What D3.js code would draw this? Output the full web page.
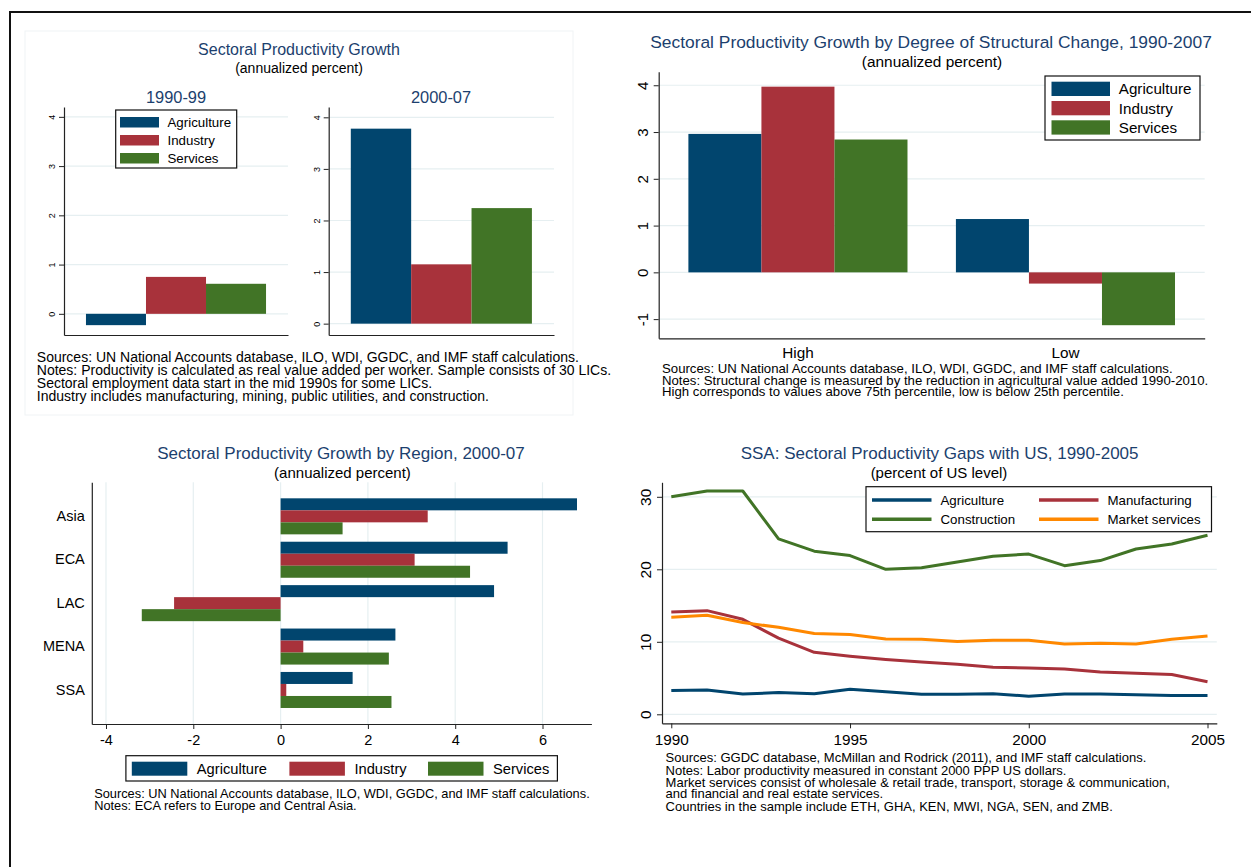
<!DOCTYPE html>
<html>
<head>
<meta charset="utf-8">
<script src="https://cdn.jsdelivr.net/npm/d3@7"></script>
<style>
body { margin: 0; background: #fff; }
svg { display: block; font-family: "Liberation Sans", Arial, sans-serif; }
</style>
</head>
<body>
<div id="chart"></div>
<script>
// ---- data ----
const SECTORS = ["Agriculture", "Industry", "Services"];

const GROWTH_GROUP = ["all"];
const GROWTH_1990_99 = [-0.23, 0.75, 0.61];
const GROWTH_2000_07 = [3.78, 1.15, 2.24];
const GROWTH_TICKS = [0, 1, 2, 3, 4];

const CHANGE_GROUPS = ["High", "Low"];
const CHANGE_AGRICULTURE = [2.96, 1.14];
const CHANGE_INDUSTRY = [3.97, -0.24];
const CHANGE_SERVICES = [2.84, -1.13];
const CHANGE_TICKS = [-1, 0, 1, 2, 3, 4];

const REGIONS = ["Asia", "ECA", "LAC", "MENA", "SSA"];
const REGION_AGRICULTURE = [6.79, 5.20, 4.89, 2.63, 1.65];
const REGION_INDUSTRY = [3.37, 3.07, -2.44, 0.52, 0.13];
const REGION_SERVICES = [1.42, 4.34, -3.18, 2.48, 2.54];
const REGION_TICKS = [-4, -2, 0, 2, 4, 6];

const YEARS = [1990, 1991, 1992, 1993, 1994, 1995, 1996, 1997, 1998, 1999, 2000, 2001, 2002, 2003, 2004, 2005];
const GAP_AGRICULTURE = [3.3, 3.35, 2.8, 3.0, 2.85, 3.45, 3.1, 2.75, 2.75, 2.85, 2.5, 2.8, 2.8, 2.7, 2.6, 2.6];
const GAP_MANUFACTURING = [14.1, 14.3, 13.1, 10.5, 8.55, 8.0, 7.55, 7.2, 6.9, 6.5, 6.4, 6.25, 5.85, 5.65, 5.5, 4.5];
const GAP_CONSTRUCTION = [30.0, 30.8, 30.8, 24.2, 22.5, 21.9, 20.0, 20.2, 21.0, 21.8, 22.1, 20.5, 21.2, 22.8, 23.5, 24.7];
const GAP_MARKET_SERVICES = [13.4, 13.65, 12.65, 12.0, 11.15, 11.0, 10.4, 10.35, 10.05, 10.2, 10.2, 9.7, 9.8, 9.7, 10.35, 10.8];
const GAP_SECTORS = ["Agriculture", "Manufacturing", "Construction", "Market services"];
const GAP_YEAR_TICKS = [1990, 1995, 2000, 2005];
const GAP_TICKS = [0, 10, 20, 30];

const NOTES_GROWTH = [
    "Sources: UN National Accounts database, ILO, WDI, GGDC, and IMF staff calculations.",
    "Notes: Productivity is calculated as real value added per worker. Sample consists of 30 LICs.",
    "Sectoral employment data start in the mid 1990s for some LICs.",
    "Industry includes manufacturing, mining, public utilities, and construction."
];
const NOTES_CHANGE = [
    "Sources: UN National Accounts database, ILO, WDI, GGDC, and IMF staff calculations.",
    "Notes: Structural change is measured by the reduction in agricultural value added 1990-2010.",
    "High corresponds to values above 75th percentile, low is below 25th percentile."
];
const NOTES_REGION = [
    "Sources: UN National Accounts database, ILO, WDI, GGDC, and IMF staff calculations.",
    "Notes: ECA refers to Europe and Central Asia."
];
const NOTES_GAP = [
    "Sources: GGDC database, McMillan and Rodrick (2011), and IMF staff calculations.",
    "Notes: Labor productivity measured in constant 2000 PPP US dollars.",
    "Market services consist of wholesale & retail trade, transport, storage & communication,",
    "and financial and real estate services.",
    "Countries in the sample include ETH, GHA, KEN, MWI, NGA, SEN, and ZMB."
];

// ---- style ----
const SECTOR_COLORS = ["#01456e", "#a8323b", "#417426"];
const GAP_COLORS = ["#01456e", "#a8323b", "#417426", "#ff8800"];
const TITLE_COLOR = "#1c3f6e";
const GRID = "#e6eff1";
const AXIS = "#222";
const plain = d => String(d);

const svg = d3.select("#chart").append("svg")
    .attr("width", 1251)
    .attr("height", 867);

svg.append("rect").attr("width", 1251).attr("height", 867).attr("fill", "#fff");
svg.append("path").attr("d", "M10,867V12H1251").attr("fill", "none").attr("stroke", "#111").attr("stroke-width", 2);

function label(g, x, y, str, size, fill, anchor) {
    return g.append("text")
        .attr("x", x).attr("y", y).attr("dy", "0.35em")
        .attr("font-size", size)
        .attr("fill", fill || "#000")
        .attr("text-anchor", anchor || "start")
        .text(str);
}

function notes(g, x, ys, lines, size) {
    lines.forEach((t, i) => label(g, x, ys[i], t, size));
}

function styleAxis(a, size) {
    a.attr("font-family", null).attr("font-size", size);
    a.select(".domain").attr("stroke", AXIS).attr("stroke-width", 1.2);
    a.selectAll(".tick line").attr("stroke", AXIS);
    a.selectAll(".tick text").attr("fill", "#000");
}

function rotateTicks(a, off) {
    a.selectAll(".tick text")
        .attr("x", 0).attr("dy", 0)
        .attr("text-anchor", "middle")
        .attr("transform", `translate(${-off},0) rotate(-90)`);
}

// vertical grouped bars
function columns(g, c) {
    const y = d3.scaleLinear().domain(c.domain).range([c.y1, c.y0]);
    const x = d3.scaleBand().domain(c.groups).range([c.x0, c.x1])
        .paddingInner(c.pi).paddingOuter(c.po);
    const xi = d3.scaleBand().domain(SECTORS).range([0, x.bandwidth()]);

    g.append("g").selectAll("line").data(c.ticks).join("line")
        .attr("x1", c.x0).attr("x2", c.x1)
        .attr("y1", d => y(d)).attr("y2", d => y(d))
        .attr("stroke", GRID).attr("stroke-width", 1.2);

    c.series.forEach((vals, si) => {
        g.append("g").selectAll("rect").data(vals).join("rect")
            .attr("x", (d, i) => x(c.groups[i]) + xi(SECTORS[si]))
            .attr("width", xi.bandwidth())
            .attr("y", d => y(Math.max(0, d)))
            .attr("height", d => Math.abs(y(d) - y(0)))
            .attr("fill", SECTOR_COLORS[si]);
    });

    const ya = g.append("g").attr("transform", `translate(${c.x0},0)`)
        .call(d3.axisLeft(y).tickValues(c.ticks).tickFormat(plain).tickSize(5).tickSizeOuter(0));
    styleAxis(ya, c.tickFont);
    rotateTicks(ya, c.tickOff);

    const xa = g.append("g").attr("transform", `translate(0,${c.y1})`)
        .call(d3.axisBottom(x).tickSize(0).tickSizeOuter(0).tickPadding(9)
            .tickFormat(c.showGroups ? plain : (() => "")));
    styleAxis(xa, c.groupFont || 15);
}

function boxLegend(g, x, y, w, h) {
    g.append("rect").attr("x", x).attr("y", y).attr("width", w).attr("height", h)
        .attr("fill", "#fff").attr("stroke", "#111").attr("stroke-width", 1.2);
}

// ================= top left =================
const tl = svg.append("g");
tl.append("rect").attr("x", 25).attr("y", 31).attr("width", 548).attr("height", 384)
    .attr("fill", "none").attr("stroke", "#f0f3f5").attr("stroke-width", 1);
label(tl, 299, 49, "Sectoral Productivity Growth", 16, TITLE_COLOR, "middle");
label(tl, 299, 68, "(annualized percent)", 14, "#000", "middle");
label(tl, 176, 97, "1990-99", 16.4, TITLE_COLOR, "middle");
label(tl, 441, 97, "2000-07", 16.4, TITLE_COLOR, "middle");

columns(tl, {
    x0: 64, x1: 288, y0: 107, y1: 335, domain: [-0.43, 4.2], ticks: GROWTH_TICKS,
    groups: GROWTH_GROUP, pi: 0, po: 0.122,
    series: [[GROWTH_1990_99[0]], [GROWTH_1990_99[1]], [GROWTH_1990_99[2]]],
    tickFont: 9, tickOff: 9
});
columns(tl, {
    x0: 328.7, x1: 554, y0: 107, y1: 335, domain: [-0.22, 4.2], ticks: GROWTH_TICKS,
    groups: GROWTH_GROUP, pi: 0, po: 0.122,
    series: [[GROWTH_2000_07[0]], [GROWTH_2000_07[1]], [GROWTH_2000_07[2]]],
    tickFont: 9, tickOff: 9
});

boxLegend(tl, 115.7, 110, 121, 58);
SECTORS.forEach((s, i) => {
    tl.append("rect").attr("x", 120).attr("y", 117 + i * 18).attr("width", 39).attr("height", 10.5)
        .attr("fill", SECTOR_COLORS[i]);
    label(tl, 167.5, 122.5 + i * 18, s, 13.3);
});
notes(tl, 36.8, [357, 370, 383, 396.5], NOTES_GROWTH, 14);

// ================= top right =================
const tr = svg.append("g");
label(tr, 931, 42, "Sectoral Productivity Growth by Degree of Structural Change, 1990-2007", 17.4, TITLE_COLOR, "middle");
label(tr, 932, 62, "(annualized percent)", 15.4, "#000", "middle");

columns(tr, {
    x0: 658.7, x1: 1204.7, y0: 71.7, y1: 338.3, domain: [-1.41, 4.29], ticks: CHANGE_TICKS,
    groups: CHANGE_GROUPS, pi: 0.181, po: 0.111,
    series: [CHANGE_AGRICULTURE, CHANGE_INDUSTRY, CHANGE_SERVICES],
    tickFont: 15, tickOff: 11, showGroups: true, groupFont: 15.3
});

boxLegend(tr, 1045, 76, 155, 64);
SECTORS.forEach((s, i) => {
    tr.append("rect").attr("x", 1051.5).attr("y", 81.7 + i * 19.3).attr("width", 58.5).attr("height", 14.3)
        .attr("fill", SECTOR_COLORS[i]);
    label(tr, 1118.8, 89 + i * 19.4, s, 15.2);
});
notes(tr, 662, [368.5, 380, 391.5], NOTES_CHANGE, 13.2);

// ================= bottom left =================
const bl = svg.append("g");
label(bl, 341, 452.7, "Sectoral Productivity Growth by Region, 2000-07", 17, TITLE_COLOR, "middle");
label(bl, 342.5, 472.3, "(annualized percent)", 15, "#000", "middle");
{
    const x0 = 91.8, x1 = 591.4, y0 = 482.3, y1 = 724;
    const x = d3.scaleLinear().domain([-4.325, 7.12]).range([x0, x1]);
    const y = d3.scaleBand().domain(REGIONS).range([y0, y1]).paddingInner(0.17).paddingOuter(0.369);
    const yi = d3.scaleBand().domain(SECTORS).range([0, y.bandwidth()]);

    bl.append("g").selectAll("line").data(REGION_TICKS).join("line")
        .attr("x1", d => x(d)).attr("x2", d => x(d))
        .attr("y1", y0).attr("y2", y1)
        .attr("stroke", GRID).attr("stroke-width", 1.2);

    [REGION_AGRICULTURE, REGION_INDUSTRY, REGION_SERVICES].forEach((vals, si) => {
        bl.append("g").selectAll("rect").data(vals).join("rect")
            .attr("y", (d, i) => y(REGIONS[i]) + yi(SECTORS[si]))
            .attr("height", yi.bandwidth())
            .attr("x", d => x(Math.min(0, d)))
            .attr("width", d => Math.abs(x(d) - x(0)))
            .attr("fill", SECTOR_COLORS[si]);
    });

    const ya = bl.append("g").attr("transform", `translate(${x0},0)`)
        .call(d3.axisLeft(y).tickSize(0).tickSizeOuter(0).tickPadding(7));
    styleAxis(ya, 14.5);
    const xa = bl.append("g").attr("transform", `translate(0,${y1})`)
        .call(d3.axisBottom(x).tickValues(REGION_TICKS).tickFormat(plain)
            .tickSize(5).tickSizeOuter(0).tickPadding(6));
    styleAxis(xa, 14.5);

    boxLegend(bl, 125.9, 755.7, 431.5, 25.3);
    const swX = [131.8, 289.4, 428];
    SECTORS.forEach((s, i) => {
        bl.append("rect").attr("x", swX[i]).attr("y", 761.7).attr("width", 55.5).attr("height", 14)
            .attr("fill", SECTOR_COLORS[i]);
        label(bl, swX[i] + 65, 768.7, s, 14.7);
    });
}
notes(bl, 94.2, [793.3, 805.7], NOTES_REGION, 12.8);

// ================= bottom right =================
const br = svg.append("g");
label(br, 939.6, 452.7, "SSA: Sectoral Productivity Gaps with US, 1990-2005", 17, TITLE_COLOR, "middle");
label(br, 939, 472.3, "(percent of US level)", 15, "#000", "middle");
{
    const x0 = 662, x1 = 1216.8, y0 = 482.3, y1 = 723.3;
    const x = d3.scaleLinear().domain([1989.74, 2005.26]).range([x0, x1]);
    const y = d3.scaleLinear().domain([-1.24, 32]).range([y1, y0]);

    br.append("g").selectAll("line").data(GAP_TICKS).join("line")
        .attr("x1", x0).attr("x2", x1)
        .attr("y1", d => y(d)).attr("y2", d => y(d))
        .attr("stroke", GRID).attr("stroke-width", 1.2);

    const line = d3.line().x(d => x(d[0])).y(d => y(d[1]));
    [GAP_AGRICULTURE, GAP_MANUFACTURING, GAP_CONSTRUCTION, GAP_MARKET_SERVICES].forEach((vals, si) => {
        br.append("path")
            .datum(YEARS.map((yr, i) => [yr, vals[i]]))
            .attr("fill", "none")
            .attr("stroke", GAP_COLORS[si])
            .attr("stroke-width", 3)
            .attr("stroke-linejoin", "round")
            .attr("d", line);
    });

    const ya = br.append("g").attr("transform", `translate(${x0},0)`)
        .call(d3.axisLeft(y).tickValues(GAP_TICKS).tickFormat(plain).tickSize(5).tickSizeOuter(0));
    styleAxis(ya, 15.5);
    rotateTicks(ya, 11.5);
    const xa = br.append("g").attr("transform", `translate(0,${y1})`)
        .call(d3.axisBottom(x).tickValues(GAP_YEAR_TICKS).tickFormat(plain)
            .tickSize(5).tickSizeOuter(0).tickPadding(6));
    styleAxis(xa, 15.3);

    boxLegend(br, 866, 486.7, 345.5, 45);
    const legX = [872, 1039, 872, 1039];
    const legY = [500, 500, 519.3, 519.3];
    GAP_SECTORS.forEach((s, i) => {
        br.append("line").attr("x1", legX[i]).attr("x2", legX[i] + 59.5)
            .attr("y1", legY[i]).attr("y2", legY[i])
            .attr("stroke", GAP_COLORS[i]).attr("stroke-width", 3.5);
        label(br, legX[i] + 68.5, legY[i], s, 13.3);
    });
}
notes(br, 665.6, [757.7, 770, 782, 793.7, 806], NOTES_GAP, 13);
</script>
</body>
</html>
